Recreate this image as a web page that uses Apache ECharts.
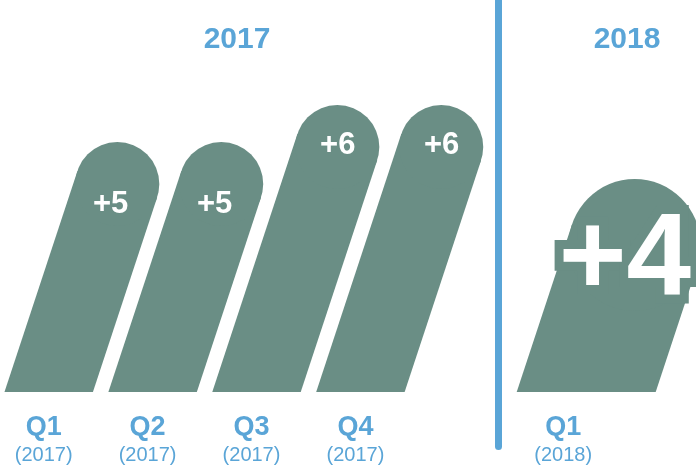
<!DOCTYPE html>
<html>
<head>
<meta charset="utf-8">
<style>
  html, body { margin: 0; padding: 0; background: #ffffff; }
  #chart { width: 696px; height: 472px; }
</style>
<script src="https://cdn.jsdelivr.net/npm/echarts@6/dist/echarts.min.js"></script>
</head>
<body>
<div id="chart"></div>
<script>
// ---- data ----
const quarters = ['Q1', 'Q2', 'Q3', 'Q4', '', 'Q1'];
const years = ['(2017)', '(2017)', '(2017)', '(2017)', '', '(2018)'];
const values = [5, 5, 6, 6, null, 4];
const valueLabels = ['+5', '+5', '+6', '+6', '', '+4'];
const groupTitles = ['2017', '2018'];

// ---- style ----
const BAR = '#6a8e85';
const BLUE = '#5aa5d7';
const FONT = '"Liberation Sans", Arial, Helvetica, sans-serif';
const SLANT = 0.33;
const smallStyle = { r: 42, dx: 5, labelDx: 0, font: 'bold 31px ' + FONT, border: 0 };
const bigStyle = { r: 66, dx: 23, labelDx: -4, font: 'bold 116px ' + FONT, border: 18 };
function styleFor(i) { return years[i] === '(2018)' ? bigStyle : smallStyle; }

const barData = [];
values.forEach((v, i) => { if (v != null) barData.push([i, v]); });

const chart = echarts.init(document.getElementById('chart'), null, { renderer: 'canvas' });

function renderBar(params, api) {
  const i = api.value(0), v = api.value(1);
  const st = styleFor(i);
  const p = api.coord([i, v]);
  const yb = params.coordSys.y + params.coordSys.height;
  const th = Math.atan(SLANT), c = Math.cos(th), sn = Math.sin(th);
  const r = st.r;
  const bx = p[0] + st.dx;
  const cy = p[1] + r;
  const cx = bx + SLANT * (yb - cy);
  const hw = r / c;
  return {
    type: 'group',
    children: [
      { type: 'polygon', shape: { points: [[bx - hw, yb], [bx + hw, yb], [cx + r * c, cy + r * sn], [cx - r * c, cy - r * sn]] }, style: { fill: BAR } },
      { type: 'circle', shape: { cx: cx, cy: cy, r: r }, style: { fill: BAR } }
    ]
  };
}

function renderLabel(params, api) {
  const i = api.value(0), v = api.value(1);
  const st = styleFor(i);
  const p = api.coord([i, v]);
  const yb = params.coordSys.y + params.coordSys.height;
  const bx = p[0] + st.dx;
  const x = bx + SLANT * (yb - p[1]) + st.labelDx;
  const children = [];
  if (st.border) {
    children.push({ type: 'text', x: x, y: p[1], style: { text: valueLabels[i], font: st.font, fill: BAR, stroke: BAR, lineWidth: st.border, lineJoin: 'miter', align: 'center', verticalAlign: 'middle' } });
  }
  children.push({ type: 'text', x: x, y: p[1], style: { text: valueLabels[i], font: st.font, fill: '#ffffff', align: 'center', verticalAlign: 'middle' } });
  return { type: 'group', children: children };
}

const option = {
  animation: false,
  backgroundColor: '#ffffff',
  grid: { left: 43.7, right: 132.8, top: 68, bottom: 80, containLabel: false },
  xAxis: {
    type: 'category',
    boundaryGap: false,
    data: quarters.map((q, i) => q + years[i]),
    axisLine: { show: false },
    axisTick: { show: false },
    splitLine: { show: false },
    axisLabel: {
      interval: 0,
      margin: 22,
      formatter: function (val, idx) {
        return quarters[idx] ? '{q|' + quarters[idx] + '}\n{y|' + years[idx] + '}' : '';
      },
      rich: {
        q: { fontFamily: FONT, fontWeight: 'bold', fontSize: 27, color: BLUE, lineHeight: 28, align: 'center' },
        y: { fontFamily: FONT, fontWeight: 'normal', fontSize: 20, color: BLUE, lineHeight: 26, align: 'center' }
      }
    }
  },
  yAxis: [
    { type: 'value', min: -1.75, max: 7, show: false },
    { type: 'value', min: 1.776, max: 7.338, show: false }
  ],
  series: [
    { type: 'custom', yAxisIndex: 0, renderItem: renderBar, data: barData, z: 2, clip: false },
    { type: 'custom', yAxisIndex: 1, renderItem: renderLabel, data: barData, z: 3, clip: false }
  ],
  graphic: [
    { type: 'line', shape: { x1: 498.5, y1: -10, x2: 498.5, y2: 446.5 }, style: { stroke: BLUE, lineWidth: 7, lineCap: 'round' }, z: 10 },
    { type: 'text', x: 237, y: 40, style: { text: groupTitles[0], font: 'bold 30px ' + FONT, fill: BLUE, align: 'center', verticalAlign: 'middle' } },
    { type: 'text', x: 627, y: 40, style: { text: groupTitles[1], font: 'bold 30px ' + FONT, fill: BLUE, align: 'center', verticalAlign: 'middle' } }
  ]
};
chart.setOption(option);
</script>
</body>
</html>
